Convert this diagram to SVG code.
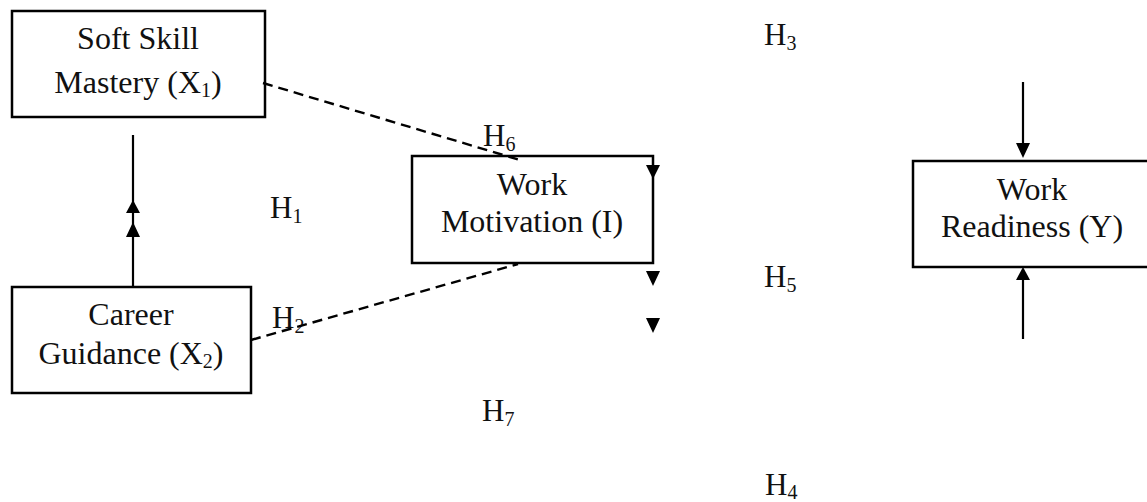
<svg xmlns="http://www.w3.org/2000/svg" width="1147" height="502" viewBox="0 0 1147 502">
<style>
.box{fill:#fff;stroke:#000;stroke-width:2.5}
.t{font-family:"Liberation Serif","Times New Roman",serif;font-size:32px;fill:#111;text-anchor:middle}
.h{font-family:"Liberation Serif","Times New Roman",serif;font-size:31px;fill:#111}
.sub{font-size:20px}
.ln{stroke:#000;stroke-width:2.2;fill:none}
.dash{stroke:#000;stroke-width:2.4;fill:none;stroke-dasharray:10,6}
.ah{fill:#000}
</style>
<rect width="1147" height="502" fill="#fff"/>
<g id="node-x1">
  <rect class="box" x="12" y="11" width="253" height="106"/>
  <text class="t" x="138" y="49">Soft Skill</text>
  <text class="t" x="138" y="93">Mastery (X<tspan class="sub" dy="4">1</tspan><tspan dy="-4">)</tspan></text>
</g>
<g id="node-x2">
  <rect class="box" x="12" y="287" width="239" height="106"/>
  <text class="t" x="131" y="325">Career</text>
  <text class="t" x="131" y="364">Guidance (X<tspan class="sub" dy="4">2</tspan><tspan dy="-4">)</tspan></text>
</g>
<g id="node-i">
  <rect class="box" x="412" y="156" width="241" height="107"/>
  <text class="t" x="532" y="195">Work</text>
  <text class="t" x="532" y="232">Motivation (I)</text>
</g>
<g id="node-y">
  <rect class="box" x="913" y="161" width="239" height="106"/>
  <text class="t" x="1032" y="200">Work</text>
  <text class="t" x="1032" y="237">Readiness (Y)</text>
</g>
<g id="labels">
  <text class="h" x="270" y="218">H<tspan class="sub" dy="5">1</tspan></text>
  <text class="h" x="272" y="328">H<tspan class="sub" dy="5">2</tspan></text>
  <text class="h" x="764" y="45">H<tspan class="sub" dy="5">3</tspan></text>
  <text class="h" x="765" y="495">H<tspan class="sub" dy="4">4</tspan></text>
  <text class="h" x="764" y="287">H<tspan class="sub" dy="5">5</tspan></text>
  <text class="h" x="483" y="146">H<tspan class="sub" dy="5">6</tspan></text>
  <text class="h" x="482" y="421">H<tspan class="sub" dy="5">7</tspan></text>
</g>
<g id="connectors">
  <line class="ln" x1="133" y1="287" x2="133" y2="135"/>
  <polygon class="ah" points="133,200 126,213 140,213"/>
  <polygon class="ah" points="133,222 126,237 140,237"/>
  <line class="dash" x1="263" y1="83" x2="520" y2="160"/>
  <line class="dash" x1="251" y1="340" x2="518" y2="264"/>
  <polygon class="ah" points="646,165 660,165 653,179"/>
  <polygon class="ah" points="646,271 660,271 653,286"/>
  <polygon class="ah" points="646,318 660,318 653,333"/>
  <line class="ln" x1="1023" y1="82" x2="1023" y2="145"/>
  <polygon class="ah" points="1016,143 1030,143 1023,158"/>
  <line class="ln" x1="1023" y1="278" x2="1023" y2="339"/>
  <polygon class="ah" points="1023,267 1016,280 1030,280"/>
</g>
</svg>
